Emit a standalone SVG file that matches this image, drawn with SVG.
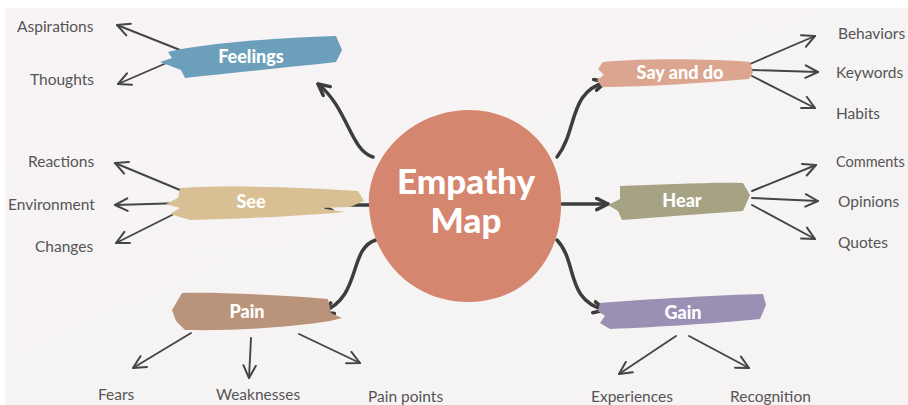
<svg xmlns="http://www.w3.org/2000/svg" width="908" height="405" viewBox="0 0 908 405">
<defs>
<style>
.lbl{font-family:"Lato","Noto Sans",sans-serif;font-size:15.5px;fill:#555}
.nt{font-family:"Lato","Open Sans",sans-serif;font-weight:900;font-size:18px;fill:#fff;text-anchor:middle}
.ct{font-family:"Lato","Open Sans",sans-serif;font-weight:900;font-size:35px;fill:#fff;text-anchor:middle}
.thin{fill:none;stroke:#454545;stroke-width:1.9;stroke-linecap:round}
.thick{fill:none;stroke:#3d3d3d;stroke-width:3.5;stroke-linecap:round}
</style>
<marker id="ah" markerUnits="userSpaceOnUse" viewBox="0 0 12 12" refX="11" refY="6" markerWidth="15" markerHeight="15" orient="auto">
<path d="M1,1 L11,6 L1,11" fill="none" stroke="#454545" stroke-width="1.6" stroke-linecap="round" stroke-linejoin="round"/>
</marker>
<marker id="ahk" markerUnits="userSpaceOnUse" viewBox="0 0 12 12" refX="10.5" refY="6" markerWidth="15" markerHeight="15" orient="auto">
<path d="M1.5,1.5 L10.5,6 L1.5,10.5" fill="none" stroke="#3d3d3d" stroke-width="2.8" stroke-linecap="round" stroke-linejoin="round"/>
</marker>
<linearGradient id="bg" x1="0" y1="0" x2="1" y2="1">
<stop offset="0" stop-color="#f8f4f5"/>
<stop offset="1" stop-color="#f5f3f3"/>
</linearGradient>
</defs>
<rect width="908" height="405" fill="#ffffff"/>
<rect x="5" y="8" width="903" height="397" fill="url(#bg)"/>

<g id="connectors">
<path class="thick" d="M373,157 C350,150 348,108 318,84" marker-end="url(#ahk)"/>
<path class="thick" d="M557,157 C578,130 568,92 606,82" marker-end="url(#ahk)"/>
<path class="thick" d="M372,205 L321,205" marker-end="url(#ahk)"/>
<path class="thick" d="M562,204 L608,204" marker-end="url(#ahk)"/>
<path class="thick" d="M376,240 C348,248 362,298 322,312" marker-end="url(#ahk)"/>
<path class="thick" d="M557,240 C578,262 565,300 605,310" marker-end="url(#ahk)"/>
<path class="thin" d="M180,50 L117,25" marker-end="url(#ah)"/>
<path class="thin" d="M178,58 L118,84" marker-end="url(#ah)"/>
<path class="thin" d="M750,64 L815,36" marker-end="url(#ah)"/>
<path class="thin" d="M752,70 L818,72" marker-end="url(#ah)"/>
<path class="thin" d="M752,76 L815,108" marker-end="url(#ah)"/>
<path class="thin" d="M752,191 L816,165" marker-end="url(#ah)"/>
<path class="thin" d="M752,198 L818,201" marker-end="url(#ah)"/>
<path class="thin" d="M752,205 L815,239" marker-end="url(#ah)"/>
<path class="thin" d="M180,190 L115,163" marker-end="url(#ah)"/>
<path class="thin" d="M183,203 L115,205" marker-end="url(#ah)"/>
<path class="thin" d="M176,213 L116,243" marker-end="url(#ah)"/>
<path class="thin" d="M191,333 L133,368" marker-end="url(#ah)"/>
<path class="thin" d="M251,338 L249,378" marker-end="url(#ah)"/>
<path class="thin" d="M299,334 L360,363" marker-end="url(#ah)"/>
<path class="thin" d="M676,336 L619,374" marker-end="url(#ah)"/>
<path class="thin" d="M689,336 L749,368" marker-end="url(#ah)"/>
</g>

<g id="center">
<path d="M468,110 C522,110 561,150 561,200 C563,252 530,301 470,302 C414,303 371,260 369,205 C367,158 410,111 468,110 Z" fill="#d5866f"/>
<text class="ct" x="466" y="194">Empathy</text>
<text class="ct" x="466" y="233">Map</text>
</g>

<g id="feelings">
<path d="M168,52 C200,44 270,38 336,36 L342,50 L336,62 C300,66 240,72 185,78 L181,70 L160,62 L172,58 Z" fill="#6c9fba"/>
<text class="nt" x="251" y="63">Feelings</text>
</g>

<g id="sayanddo">
<path d="M603,62 C650,58 710,59 750,62 L753,72 L749,79 C700,83 650,87 602,87 L597,80 L604,75 L598,69 Z" fill="#dba590"/>
<text class="nt" x="680" y="79">Say and do</text>
</g>

<g id="see">
<path d="M180,188 C230,185 300,187 358,191 L364,201 L350,207 L320,208 L345,212 C300,216 240,219 190,220 L170,214 L180,208 L166,204 L178,198 Z" fill="#d8c094"/>
<text class="nt" x="251" y="208">See</text>
</g>

<g id="hear">
<path d="M620,186 C660,185 710,182 743,183 L750,195 L743,211 C700,214 660,217 622,220 L618,211 L608,205 L620,199 Z" fill="#a6a384"/>
<text class="nt" x="682" y="207">Hear</text>
</g>

<g id="pain">
<path d="M182,293 C220,292 280,295 328,299 L331,313 L342,318 L330,321 C290,327 240,331 185,330 L176,321 L172,310 Z" fill="#b9947a"/>
<text class="nt" x="247" y="318">Pain</text>
</g>

<g id="gain">
<path d="M600,303 C650,299 720,295 763,294 L766,305 L760,319 C720,323 660,327 610,329 L600,323 L605,316 L598,311 Z" fill="#9a90b3"/>
<text class="nt" x="683" y="319">Gain</text>
</g>

<g id="labels">
<text class="lbl" x="17" y="32">Aspirations</text>
<text class="lbl" x="30" y="85">Thoughts</text>
<text class="lbl" x="838" y="39">Behaviors</text>
<text class="lbl" x="836" y="78">Keywords</text>
<text class="lbl" x="836" y="119">Habits</text>
<text class="lbl" x="28" y="167">Reactions</text>
<text class="lbl" x="8" y="210">Environment</text>
<text class="lbl" x="35" y="252">Changes</text>
<text class="lbl" x="836" y="167" style="font-size:14.5px">Comments</text>
<text class="lbl" x="838" y="207">Opinions</text>
<text class="lbl" x="838" y="248">Quotes</text>
<text class="lbl" x="98" y="400">Fears</text>
<text class="lbl" x="216" y="400">Weaknesses</text>
<text class="lbl" x="368" y="402">Pain points</text>
<text class="lbl" x="591" y="402">Experiences</text>
<text class="lbl" x="730" y="402">Recognition</text>
</g>
</svg>
